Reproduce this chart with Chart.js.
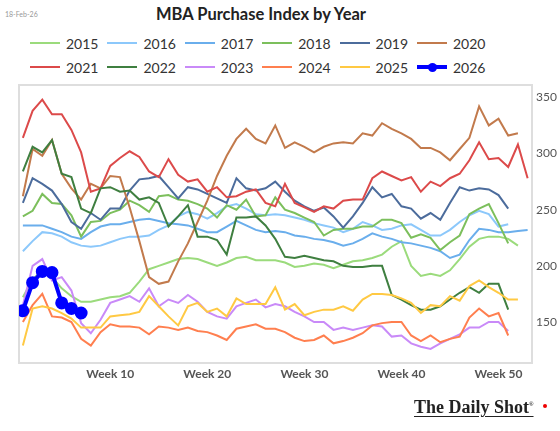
<!DOCTYPE html>
<html><head><meta charset="utf-8">
<script src="https://cdn.jsdelivr.net/npm/chart.js@4"></script>
<style>
body{margin:0;width:560px;height:431px;background:#fff;font-family:Lato,"Open Sans",sans-serif;position:relative;overflow:hidden}
#date{position:absolute;left:5px;top:10px;font-size:7px;color:#999}
#title{position:absolute;left:0;width:522px;top:4px;text-align:center;font-size:16.5px;font-weight:700;color:#222}
#legend{position:absolute;left:30px;top:31px;display:grid;grid-template-columns:repeat(6,77.4px);grid-auto-rows:24px}
.it{display:flex;align-items:center;font-size:14px;color:#333}
.ln{width:30px;height:2px;margin-right:6px;position:relative}
.dot{position:absolute;left:11px;width:9px;height:9px;border-radius:50%}
#chart{position:absolute;left:0;top:0}
#logo{position:absolute;left:414px;top:397px;width:140px;height:28px;font-family:"Liberation Serif",serif;font-weight:700;font-size:18px;line-height:20px;color:#222;text-decoration:underline;text-underline-offset:3px}
#logo sup{font-size:6px;line-height:0}
#rdot{position:absolute;left:129px;top:7px;width:4px;height:4px;border-radius:50%;background:#e00}
</style></head>
<body>
<div id="date">18-Feb-26</div>
<div id="title">MBA Purchase Index by Year</div>
<div id="legend"></div>
<canvas id="chart" width="560" height="431"></canvas>
<div id="logo">The Daily Shot<sup>®</sup><span id="rdot"></span></div>
<script>
/* ========= DATA ========= */

const years=[2015,2016,2017,2018,2019,2020,2021,2022,2023,2024,2025,2026]

const s2015=[172,188,196,190,180,173,168,168,170,172,173,176,186,197,200,203,206,207,206,203,200,203,207,208,205,205,205,203,199,200,202,201,198,201,204,205,207,210,217,222,200,191,193,191,196,206,217,224,226,226,224,218]
const s2016=[213,222,230,229,226,221,218,217,218,221,224,226,226,227,232,236,244,248,246,242,247,253,255,251,246,245,246,245,243,241,238,236,234,230,233,239,236,232,233,236,237,232,227,227,232,239,245,249,246,235,237]
const s2017=[236,236,236,233,230,226,224,230,235,237,237,239,241,242,240,238,237,236,233,230,230,235,240,236,232,230,231,230,227,226,224,223,221,218,220,224,229,226,224,221,220,218,216,213,207,210,223,233,232,230,230,231,232]
const s2018=[244,249,264,256,255,245,226,239,240,247,250,258,254,248,262,263,259,258,255,251,243,254,250,259,244,245,261,250,247,243,239,227,232,233,233,235,235,241,241,238,225,228,225,214,221,227,246,251,255,238,220]
const s2019=[256,278,273,267,255,239,233,247,241,251,251,267,277,278,280,270,260,270,268,264,260,256,278,269,267,269,275,266,258,253,249,252,244,234,244,256,270,261,264,253,251,242,247,241,256,270,267,269,268,263,251]
const s2020=[262,304,298,312,282,269,259,273,269,280,279,252,222,190,184,186,204,220,239,258,280,298,313,322,313,309,325,305,310,306,301,306,309,310,309,318,316,327,322,318,313,305,305,301,294,304,314,342,325,331,316,318]
const s2021=[314,338,348,335,335,321,301,266,269,289,296,302,297,284,279,295,281,275,277,266,270,261,262,266,268,256,253,273,256,252,248,253,251,258,259,259,278,284,280,276,279,266,275,271,278,282,294,310,295,296,288,308,278]
const s2022=[284,306,301,312,282,279,251,247,269,270,266,267,259,261,256,235,244,254,226,226,223,210,243,243,244,236,224,208,207,209,207,205,204,200,199,199,200,200,174,170,165,161,161,164,170,176,181,176,184,184,161]
const s2023=[165,200,206,187,190,178,149,140,152,167,170,173,168,180,164,170,167,174,168,159,155,153,164,167,170,163,166,164,159,155,150,150,143,145,143,145,147,146,137,138,131,128,126,131,135,139,145,145,150,150,142]
const s2024=[150,165,175,155,154,150,135,129,141,148,146,146,145,139,146,145,143,145,142,141,138,134,144,146,148,144,144,141,136,133,134,138,131,133,136,140,147,149,150,150,138,133,138,132,135,137,154,162,155,158,138]
const s2025=[129,162,164,162,158,153,145,145,145,155,156,157,159,173,164,155,147,164,167,159,162,155,171,166,166,166,181,161,166,156,159,161,161,164,160,170,175,175,174,171,167,158,165,164,173,169,182,187,181,176,170,170]
const s2026=[160,185,195,194,167,162,158]

const series=[s2015,s2016,s2017,s2018,s2019,s2020,s2021,s2022,s2023,s2024,s2025,s2026]
const xTicks=[10,20,30,40,50]
const yTicks=[150,200,250,300,350]

/* ========= STYLE ========= */

const colors=["#9bdb7c","#8cc8fb","#6aaeec","#7cbf5c","#4c6c9c","#c27a4c","#dc4a4a","#3f7f40","#c98af8","#ff7f4f","#ffc943","#0000ff"]

/* ========= LEGEND ========= */

const lg=document.getElementById("legend")
years.forEach((y,i)=>{
 const it=document.createElement("div")
 it.className="it"
 const ln=document.createElement("span")
 ln.className="ln"
 ln.style.background=colors[i]
 if(y===2026){
  ln.style.height="4px"
  const d=document.createElement("span")
  d.className="dot"
  d.style.background=colors[i]
  d.style.top="-2.5px"
  ln.appendChild(d)
 }
 const t=document.createElement("span")
 t.textContent=y
 it.appendChild(ln)
 it.appendChild(t)
 lg.appendChild(it)
})

/* ========= CHART ========= */

const frame={
 id:"frame",
 beforeDatasetsDraw(c){
  const a=c.chartArea,x=c.ctx
  x.save()
  x.strokeStyle="#dedede"
  x.lineWidth=2
  x.strokeRect(a.left,a.top,a.right-a.left,a.bottom-a.top)
  x.restore()
 }
}

const datasets=years.map((y,i)=>({
 label:String(y),
 data:series[i].map((v,j)=>({x:j+1,y:v})),
 borderColor:colors[i],
 backgroundColor:colors[i],
 borderWidth:y===2026?4:2,
 pointRadius:y===2026?4.5:0,
 pointHoverRadius:0,
 order:2026-y,
 tension:0
}))

new Chart(document.getElementById("chart"),{
 type:"line",
 data:{datasets},
 options:{
  responsive:false,
  animation:false,
  events:[],
  layout:{padding:{left:19,top:85,right:0,bottom:46}},
  plugins:{legend:{display:false},title:{display:false},tooltip:{enabled:false}},
  scales:{
   x:{
    type:"linear",min:0.6,max:53.45,
    afterBuildTicks:s=>{s.ticks=xTicks.map(v=>({value:v}))},
    afterFit:s=>{s.height=22},
    grid:{display:false,drawTicks:false},border:{display:false},
    ticks:{padding:4,color:"#555",font:{family:"Lato",size:12,weight:"bold"},callback:v=>"Week "+v}
   },
   y:{
    position:"right",min:113.5,max:361,
    afterBuildTicks:s=>{s.ticks=yTicks.map(v=>({value:v}))},
    afterFit:s=>{s.width=28},
    grid:{display:false,drawTicks:false},border:{display:false},
    ticks:{padding:4,color:"#555",font:{family:"Lato",size:12}}
   }
  }
 },
 plugins:[frame]
})
</script>
</body></html>
